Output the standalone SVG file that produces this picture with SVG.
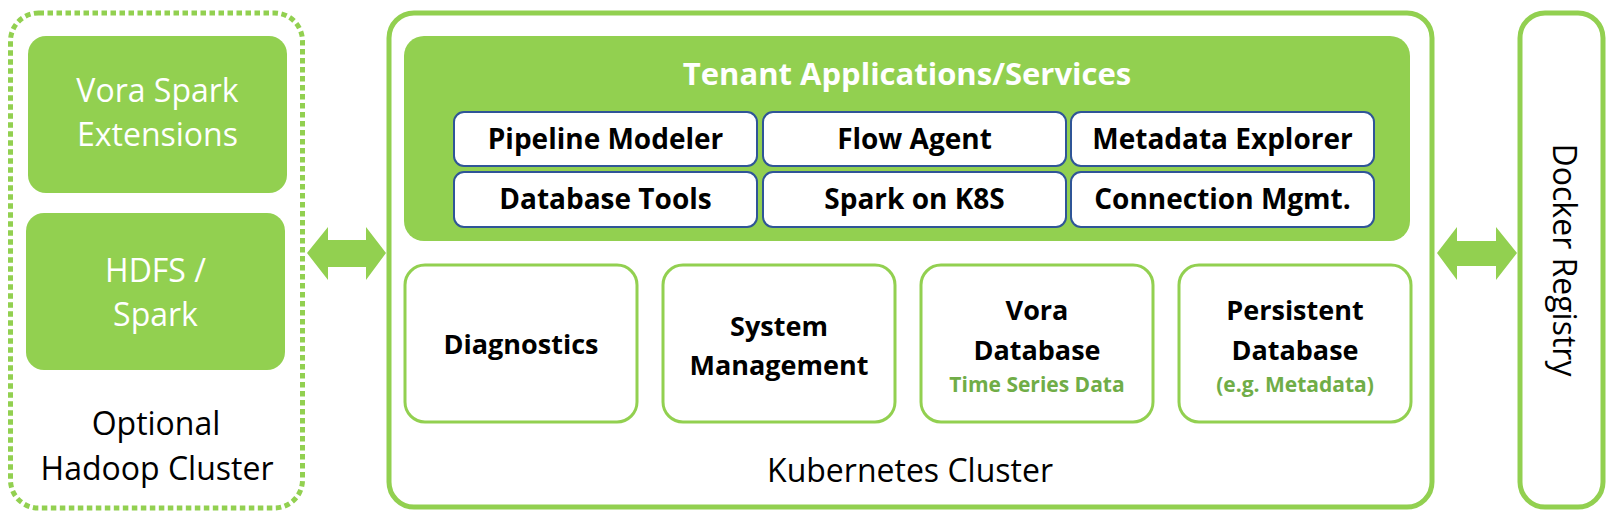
<svg xmlns="http://www.w3.org/2000/svg" width="1617" height="520" viewBox="0 0 1617 520">
<style>
.t{font-family:"Open Sans","Noto Sans","Liberation Sans",sans-serif;text-anchor:middle}
.w{fill:#fff}
.k{fill:#000}
.b{font-weight:bold}
.s{font-size:28px}
.m{font-size:27px}
.r{font-size:32px}
.g{fill:#70AD47;font-weight:bold;font-size:21px}
.fill{fill:#92D050}
.sub{fill:#fff;stroke:#2F5597;stroke-width:2}
.comp{fill:#fff;stroke:#92D050;stroke-width:3}
.frame{fill:#fff;stroke:#92D050;stroke-width:5}
</style>
<rect width="1617" height="520" fill="#fff"/>
<g id="hadoop-cluster">
<rect x="10.5" y="13" width="292" height="495" rx="28" fill="#fff" stroke="#92D050" stroke-width="5" stroke-dasharray="5.5 3.5"/>
<text class="t k r" x="156" y="435">Optional</text>
<text class="t k r" x="157" y="480">Hadoop Cluster</text>
</g>
<g id="vora-spark-ext">
<rect class="fill" x="28" y="36" width="259" height="157" rx="18"/>
<text class="t w r" x="157.5" y="102">Vora Spark</text>
<text class="t w r" x="157.5" y="146">Extensions</text>
</g>
<g id="hdfs-spark">
<rect class="fill" x="26" y="213" width="259" height="157" rx="18"/>
<text class="t w r" x="155.5" y="282">HDFS /</text>
<text class="t w r" x="155.5" y="326">Spark</text>
</g>
<g id="kubernetes-cluster">
<rect class="frame" x="389" y="13" width="1043" height="494" rx="25"/>
<text class="t k r" x="910" y="482">Kubernetes Cluster</text>
</g>
<g id="tenant-apps">
<rect class="fill" x="404" y="36" width="1006" height="205" rx="20"/>
<text class="t w b" x="907" y="85" font-size="31">Tenant Applications/Services</text>
</g>
<g id="pipeline-modeler"><rect class="sub" x="454" y="112" width="303" height="54" rx="10"/><text class="t k b s" x="605.5" y="149">Pipeline Modeler</text></g>
<g id="flow-agent"><rect class="sub" x="763" y="112" width="303" height="54" rx="10"/><text class="t k b s" x="914.5" y="149">Flow Agent</text></g>
<g id="metadata-explorer"><rect class="sub" x="1071" y="112" width="303" height="54" rx="10"/><text class="t k b s" x="1222.5" y="149">Metadata Explorer</text></g>
<g id="database-tools"><rect class="sub" x="454" y="172" width="303" height="55" rx="10"/><text class="t k b s" x="605.5" y="209">Database Tools</text></g>
<g id="spark-k8s"><rect class="sub" x="763" y="172" width="303" height="55" rx="10"/><text class="t k b s" x="914.5" y="209">Spark on K8S</text></g>
<g id="connection-mgmt"><rect class="sub" x="1071" y="172" width="303" height="55" rx="10"/><text class="t k b s" x="1222.5" y="209">Connection Mgmt.</text></g>
<g id="diagnostics"><rect class="comp" x="405" y="265" width="232" height="157" rx="20"/><text class="t k b m" x="521" y="354">Diagnostics</text></g>
<g id="system-management"><rect class="comp" x="663" y="265" width="232" height="157" rx="20"/><text class="t k b m" x="779" y="336">System</text><text class="t k b m" x="779" y="375">Management</text></g>
<g id="vora-database"><rect class="comp" x="921" y="265" width="232" height="157" rx="20"/><text class="t k b m" x="1037" y="320">Vora</text><text class="t k b m" x="1037" y="360">Database</text><text class="t g" x="1037" y="392">Time Series Data</text></g>
<g id="persistent-database"><rect class="comp" x="1179" y="265" width="232" height="157" rx="20"/><text class="t k b m" x="1295" y="320">Persistent</text><text class="t k b m" x="1295" y="360">Database</text><text class="t g" x="1295" y="392">(e.g. Metadata)</text></g>
<g id="docker-registry">
<rect class="frame" x="1520" y="13" width="83" height="494" rx="25"/>
<text class="t k r" x="0" y="0" transform="translate(1553,260) rotate(90)">Docker Registry</text>
</g>
<g id="connectors">
<polygon class="fill" points="307,253 328,227 328,240 366,240 366,227 386,253 366,280 366,267 328,267 328,280"/>
<polygon class="fill" points="1437,253 1457,227 1457,241 1496,241 1496,227 1517,253 1496,280 1496,266 1457,266 1457,280"/>
</g>
</svg>
